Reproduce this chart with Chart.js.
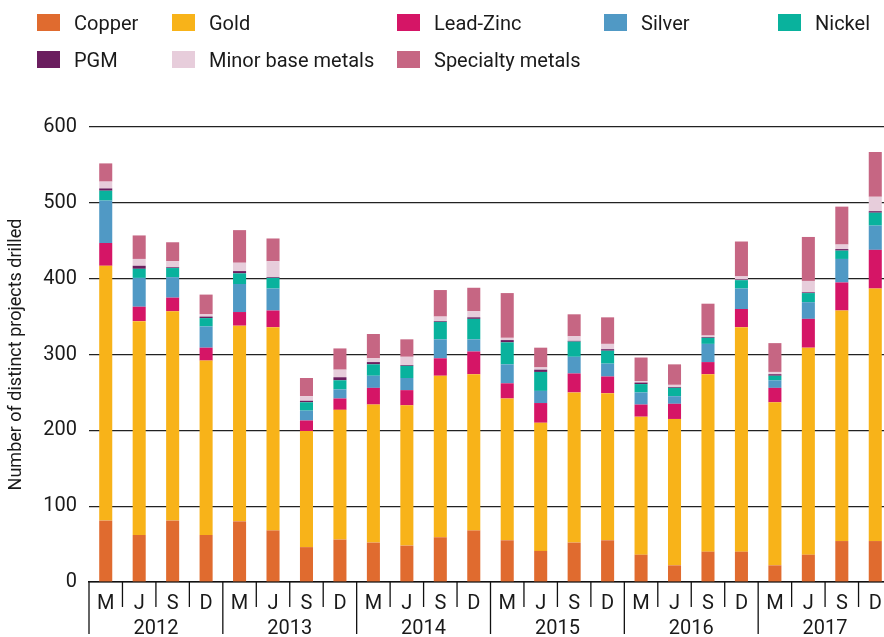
<!DOCTYPE html>
<html>
<head>
<meta charset="utf-8">
<script src="https://cdn.jsdelivr.net/npm/chart.js@4.4.1/dist/chart.umd.min.js"></script>
<style>
    html, body {
        margin: 0;
        padding: 0;
        background: #fff;
        overflow: hidden;
    }
    .wrap {
        position: relative;
        width: 892px;
        height: 637px;
    }
    .legend-item {
        position: absolute;
        display: flex;
        align-items: center;
        height: 17px;
        font-family: Roboto, 'Liberation Sans', sans-serif;
        font-size: 20px;
        color: #1a1a1a;
        white-space: nowrap;
    }
    .legend-box {
        width: 23px;
        height: 17px;
        margin-right: 14px;
        flex: none;
    }
</style>
</head>
<body>
<div class="wrap">
    <canvas id="drillChart"></canvas>
    <div id="legend"></div>
</div>
<script>
const monthLabels = ['M', 'J', 'S', 'D'];
const yearLabels = ['2012', '2013', '2014', '2015', '2016', '2017'];

const seriesNames = ['Copper', 'Gold', 'Lead-Zinc', 'Silver', 'Nickel', 'PGM', 'Minor base metals', 'Specialty metals'];
const seriesColors = ['#E06B2F', '#F8B319', '#D51566', '#5099C5', '#09B29D', '#6B1E5F', '#E7CDDB', '#C66683'];

const copper = [81, 62, 81, 62, 80, 68, 46, 56, 52, 48, 59, 68, 55, 41, 52, 55, 36, 22, 40, 40, 22, 36, 54, 54];
const gold = [336, 282, 276, 230, 258, 268, 153, 171, 182, 185, 213, 206, 187, 169, 198, 194, 182, 193, 234, 296, 215, 273, 304, 333];
const leadZinc = [30, 19, 18, 17, 18, 22, 14, 15, 22, 20, 23, 30, 20, 26, 25, 22, 16, 20, 16, 24, 19, 38, 37, 51];
const silver = [56, 38, 27, 28, 37, 29, 13, 12, 16, 16, 25, 16, 25, 16, 22, 17, 16, 10, 24, 27, 10, 22, 31, 32];
const nickel = [13, 12, 12, 11, 14, 14, 11, 12, 15, 16, 23, 27, 29, 25, 20, 17, 11, 11, 8, 11, 6, 12, 11, 17];
const pgm = [3, 4, 1, 2, 3, 1, 2, 4, 3, 1, 1, 2, 3, 3, 1, 2, 2, 1, 1, 1, 2, 1, 2, 2];
const minorBase = [9, 9, 8, 3, 11, 21, 6, 10, 5, 11, 6, 8, 3, 3, 6, 7, 2, 3, 2, 4, 3, 15, 6, 19];
const specialty = [24, 31, 25, 26, 43, 30, 24, 28, 32, 23, 35, 31, 59, 26, 29, 35, 31, 27, 42, 46, 38, 58, 50, 59];

const yMax = 600;
const yStep = 100;

const seriesValues = [copper, gold, leadZinc, silver, nickel, pgm, minorBase, specialty];
const categories = yearLabels.flatMap(() => monthLabels);

const FONT = "Roboto, 'Liberation Sans', sans-serif";
const INK = '#1a1a1a';

// legend grid: [left, top] of each swatch
const legendSlots = [[37, 14], [172, 14], [397, 14], [604, 14], [778, 14], [37, 51], [172, 51], [397, 51]];

function buildLegend() {
    const container = document.getElementById('legend');
    seriesNames.forEach((name, i) => {
        const item = document.createElement('div');
        item.className = 'legend-item';
        item.style.left = `${legendSlots[i][0]}px`;
        item.style.top = `${legendSlots[i][1]}px`;

        const box = document.createElement('span');
        box.className = 'legend-box';
        box.style.background = seriesColors[i];

        const label = document.createElement('span');
        label.textContent = name;

        item.appendChild(box);
        item.appendChild(label);
        container.appendChild(item);
    });
}

// category dividers below the axis + year labels
const xDividers = {
    id: 'xDividers',
    afterDraw(chart) {
        const { ctx, chartArea } = chart;
        const x = chart.scales.x;
        const n = categories.length;
        const half = (x.getPixelForValue(1) - x.getPixelForValue(0)) / 2;
        const base = chartArea.bottom;

        ctx.save();
        ctx.strokeStyle = '#111';
        ctx.lineWidth = 1.3;
        for (let i = 0; i <= n; i++) {
            const px = i < n ? x.getPixelForValue(i) - half : x.getPixelForValue(n - 1) + half;
            const len = i % monthLabels.length === 0 ? 52 : 25;
            ctx.beginPath();
            ctx.moveTo(px, base);
            ctx.lineTo(px, base + len);
            ctx.stroke();
        }

        ctx.fillStyle = INK;
        ctx.font = `20px ${FONT}`;
        ctx.textAlign = 'center';
        ctx.textBaseline = 'middle';
        yearLabels.forEach((year, k) => {
            const first = k * monthLabels.length;
            const last = first + monthLabels.length - 1;
            const left = x.getPixelForValue(first) - half;
            const right = x.getPixelForValue(last) + half;
            ctx.fillText(year, (left + right) / 2, base + 47);
        });
        ctx.restore();
    },
};

function buildChart() {
    const ctx = document.getElementById('drillChart').getContext('2d');

    new Chart(ctx, {
        type: 'bar',
        data: {
            labels: categories,
            datasets: seriesNames.map((name, i) => ({
                label: name,
                data: seriesValues[i],
                backgroundColor: seriesColors[i],
                borderWidth: 0,
                barPercentage: 0.39,
                categoryPercentage: 1,
            })),
        },
        options: {
            responsive: true,
            maintainAspectRatio: false,
            animation: false,
            layout: {
                padding: { top: 127, right: 0, bottom: 0, left: 0 },
            },
            plugins: {
                legend: { display: false },
                tooltip: { enabled: false },
            },
            scales: {
                x: {
                    stacked: true,
                    afterFit(scale) {
                        scale.height = 55;
                    },
                    grid: { display: false, drawTicks: false },
                    border: { display: true, color: '#111', width: 1.5 },
                    ticks: {
                        color: INK,
                        font: { family: FONT, size: 20 },
                        padding: 10,
                        maxRotation: 0,
                        autoSkip: false,
                    },
                },
                y: {
                    stacked: true,
                    min: 0,
                    max: yMax,
                    afterFit(scale) {
                        scale.width = 89;
                    },
                    grid: { color: '#222', lineWidth: 1.2, drawTicks: false },
                    border: { display: false },
                    ticks: {
                        stepSize: yStep,
                        color: INK,
                        font: { family: FONT, size: 20 },
                        padding: 12,
                    },
                    title: {
                        display: true,
                        text: 'Number of distinct projects drilled',
                        color: INK,
                        font: { family: FONT, size: 18 },
                        padding: { top: 6, bottom: 0 },
                    },
                },
            },
        },
        plugins: [xDividers],
    });
}

document.addEventListener('DOMContentLoaded', () => {
    buildLegend();
    buildChart();
});
</script>
</body>
</html>
